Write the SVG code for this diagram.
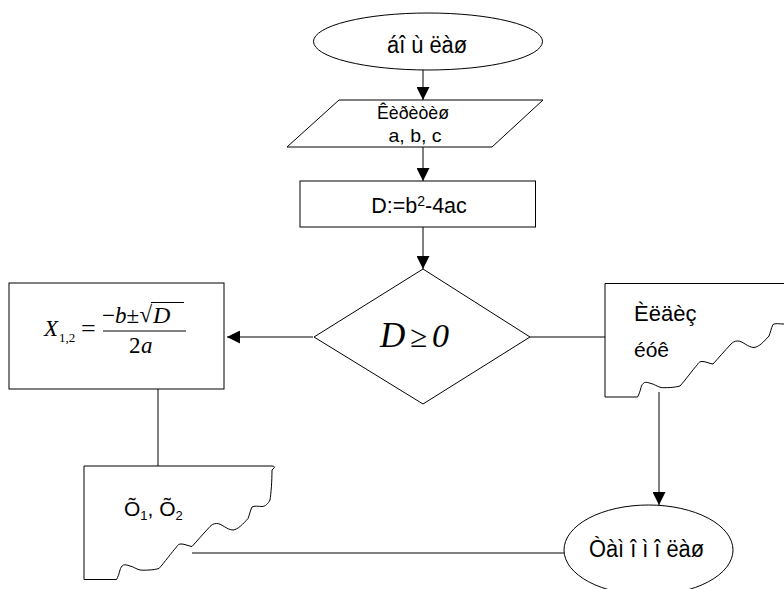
<svg xmlns="http://www.w3.org/2000/svg" width="784" height="589" viewBox="0 0 784 589">
<style>
.s{fill:#fff;stroke:#000;stroke-width:1}
.c{fill:none;stroke:#000;stroke-width:1}
.t{font-family:"Liberation Sans",Arial,sans-serif;fill:#000}
.m{font-family:"Liberation Serif","Times New Roman",serif;fill:#000}
.i{font-style:italic}
</style>
<defs>
<marker id="ah" markerUnits="userSpaceOnUse" markerWidth="13" markerHeight="13" refX="13" refY="6.5" orient="auto" viewBox="0 0 13 13">
<path d="M0,0 L13,6.5 L0,13 Z" fill="#000"/>
</marker>
<path id="doc" d="M0,0 H188 C190,0 191,1 190,2 L188,4 C188,15 187,28 186,34 C184,38 181,40.5 178,40.5 C175,40.5 170,39.5 168,41 C166,45 165.5,49 164,52.5 C159,58 154,63.5 149,64 C143,64 137,57 132.5,57.5 C129.5,57.5 127.5,59 126,60.5 C119,68 113,75 108,80.5 C104,80 100,77.5 96,78 C94,78.5 93,80 92.5,81 C88,86 80,97 75,102.5 C70,104 60,104.5 56,104 C52,103 49,100.5 46,100 C43,99 41,98.5 39.5,99 C37.5,100 36.5,102 36,104 C35,108 34,111 32.5,113.5 H0 Z"/>
</defs>

<g id="connectors">
<line class="c" x1="423" y1="70" x2="423" y2="100" marker-end="url(#ah)"/>
<line class="c" x1="423" y1="147" x2="423" y2="181" marker-end="url(#ah)"/>
<line class="c" x1="423" y1="227" x2="423" y2="269" marker-end="url(#ah)"/>
<line class="c" x1="313" y1="337" x2="227" y2="337" marker-end="url(#ah)"/>
<line class="c" x1="530" y1="337" x2="605" y2="337"/>
<line class="c" x1="158" y1="389" x2="158" y2="471"/>
<line class="c" x1="659" y1="392" x2="659" y2="505" marker-end="url(#ah)"/>
<line class="c" x1="564" y1="553" x2="192" y2="553"/>
</g>

<g id="start">
<ellipse class="s" cx="428" cy="41.5" rx="114.5" ry="28.5"/>
<text class="t" x="427" y="53" font-size="23" text-anchor="middle" textLength="80" lengthAdjust="spacingAndGlyphs">áî ù ëàø</text>
</g>

<g id="input">
<polygon class="s" points="339,100 543,100 492,147 287,147"/>
<text class="t" x="413" y="119" font-size="19" text-anchor="middle" textLength="72" lengthAdjust="spacingAndGlyphs">Êèðèòèø</text>
<text class="t" x="415" y="142" font-size="18.5" text-anchor="middle" textLength="53" lengthAdjust="spacingAndGlyphs">a, b, c</text>
</g>

<g id="calc">
<rect class="s" x="300" y="181" width="235.5" height="46"/>
<text class="t" x="419" y="213" font-size="21.5" text-anchor="middle">D:=b<tspan font-size="14" dy="-7">2</tspan><tspan dy="7">-4ac</tspan></text>
</g>

<g id="decision">
<polygon class="s" points="423,269 530,337 423,404 314,337"/>
<text class="m i" x="380" y="347" font-size="35">D</text>
<text class="m" x="410" y="347" font-size="31">≥</text>
<text class="m i" x="432" y="347" font-size="34">0</text>
</g>

<g id="formula">
<rect class="s" x="9" y="283" width="215" height="106"/>
<text class="m i" x="44" y="336" font-size="23">X</text>
<text class="m" x="59" y="342" font-size="13">1,2</text>
<text class="m" x="81" y="337" font-size="26">=</text>
<line class="c" x1="103" y1="331" x2="186" y2="331"/>
<text class="m" x="102" y="323" font-size="23">−</text>
<text class="m i" x="115" y="323" font-size="23">b</text>
<text class="m" x="126.5" y="323" font-size="23">±</text>
<text class="m" x="139.5" y="322" font-size="23">√</text>
<line class="c" x1="151" y1="302.5" x2="184" y2="302.5"/>
<text class="m i" x="153" y="323" font-size="24">D</text>
<text class="m" x="129" y="353" font-size="23">2</text>
<text class="m i" x="141" y="353" font-size="23">a</text>
</g>

<g id="noroots">
<use href="#doc" class="s" transform="translate(605,283.5)"/>
<text class="t" x="634" y="321" font-size="22">Èëäèç</text>
<text class="t" x="634" y="357" font-size="21">éóê</text>
</g>

<g id="output">
<use href="#doc" class="s" transform="translate(84,466)"/>
<text class="t" x="124" y="516" font-size="21">Õ<tspan font-size="13" dy="4">1</tspan><tspan dy="-4">, Õ</tspan><tspan font-size="13" dy="4">2</tspan></text>
</g>

<g id="end">
<ellipse class="s" cx="648.5" cy="550" rx="84.5" ry="45"/>
<text class="t" x="646.5" y="557" font-size="23" text-anchor="middle" textLength="115" lengthAdjust="spacingAndGlyphs">Òàì î ì î ëàø</text>
</g>
</svg>
